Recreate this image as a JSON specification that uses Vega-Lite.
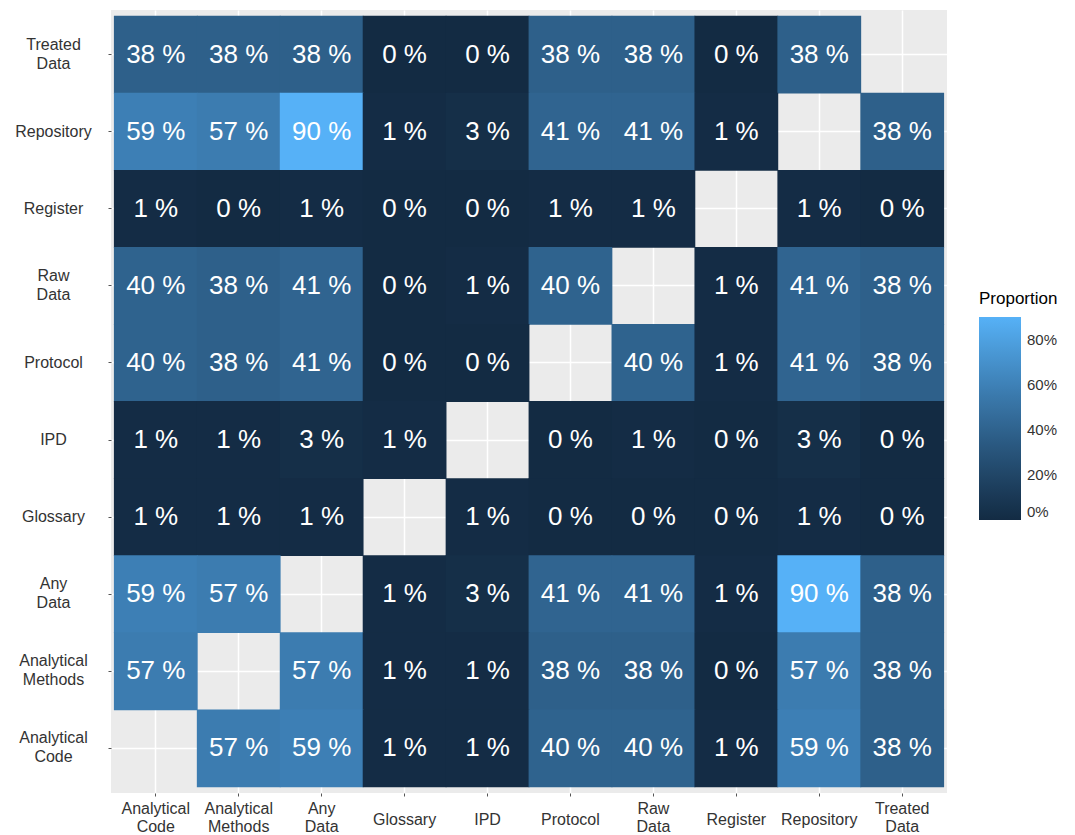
{
  "$schema": "https://vega.github.io/schema/vega-lite/v6.json",
  "width": 836,
  "height": 783,
  "autosize": {"type": "none"},
  "padding": {"left": 111, "top": 10, "right": 128, "bottom": 42},
  "background": "white",
  "config": {"view": {"fill": "#EBEBEB", "stroke": null}, "font": "Liberation Sans"},
  "data": {"values": [
    {"row": "Treated Data", "col": "Analytical Code", "p": 38},
    {"row": "Treated Data", "col": "Analytical Methods", "p": 38},
    {"row": "Treated Data", "col": "Any Data", "p": 38},
    {"row": "Treated Data", "col": "Glossary", "p": 0},
    {"row": "Treated Data", "col": "IPD", "p": 0},
    {"row": "Treated Data", "col": "Protocol", "p": 38},
    {"row": "Treated Data", "col": "Raw Data", "p": 38},
    {"row": "Treated Data", "col": "Register", "p": 0},
    {"row": "Treated Data", "col": "Repository", "p": 38},
    {"row": "Repository", "col": "Analytical Code", "p": 59},
    {"row": "Repository", "col": "Analytical Methods", "p": 57},
    {"row": "Repository", "col": "Any Data", "p": 90},
    {"row": "Repository", "col": "Glossary", "p": 1},
    {"row": "Repository", "col": "IPD", "p": 3},
    {"row": "Repository", "col": "Protocol", "p": 41},
    {"row": "Repository", "col": "Raw Data", "p": 41},
    {"row": "Repository", "col": "Register", "p": 1},
    {"row": "Repository", "col": "Treated Data", "p": 38},
    {"row": "Register", "col": "Analytical Code", "p": 1},
    {"row": "Register", "col": "Analytical Methods", "p": 0},
    {"row": "Register", "col": "Any Data", "p": 1},
    {"row": "Register", "col": "Glossary", "p": 0},
    {"row": "Register", "col": "IPD", "p": 0},
    {"row": "Register", "col": "Protocol", "p": 1},
    {"row": "Register", "col": "Raw Data", "p": 1},
    {"row": "Register", "col": "Repository", "p": 1},
    {"row": "Register", "col": "Treated Data", "p": 0},
    {"row": "Raw Data", "col": "Analytical Code", "p": 40},
    {"row": "Raw Data", "col": "Analytical Methods", "p": 38},
    {"row": "Raw Data", "col": "Any Data", "p": 41},
    {"row": "Raw Data", "col": "Glossary", "p": 0},
    {"row": "Raw Data", "col": "IPD", "p": 1},
    {"row": "Raw Data", "col": "Protocol", "p": 40},
    {"row": "Raw Data", "col": "Register", "p": 1},
    {"row": "Raw Data", "col": "Repository", "p": 41},
    {"row": "Raw Data", "col": "Treated Data", "p": 38},
    {"row": "Protocol", "col": "Analytical Code", "p": 40},
    {"row": "Protocol", "col": "Analytical Methods", "p": 38},
    {"row": "Protocol", "col": "Any Data", "p": 41},
    {"row": "Protocol", "col": "Glossary", "p": 0},
    {"row": "Protocol", "col": "IPD", "p": 0},
    {"row": "Protocol", "col": "Raw Data", "p": 40},
    {"row": "Protocol", "col": "Register", "p": 1},
    {"row": "Protocol", "col": "Repository", "p": 41},
    {"row": "Protocol", "col": "Treated Data", "p": 38},
    {"row": "IPD", "col": "Analytical Code", "p": 1},
    {"row": "IPD", "col": "Analytical Methods", "p": 1},
    {"row": "IPD", "col": "Any Data", "p": 3},
    {"row": "IPD", "col": "Glossary", "p": 1},
    {"row": "IPD", "col": "Protocol", "p": 0},
    {"row": "IPD", "col": "Raw Data", "p": 1},
    {"row": "IPD", "col": "Register", "p": 0},
    {"row": "IPD", "col": "Repository", "p": 3},
    {"row": "IPD", "col": "Treated Data", "p": 0},
    {"row": "Glossary", "col": "Analytical Code", "p": 1},
    {"row": "Glossary", "col": "Analytical Methods", "p": 1},
    {"row": "Glossary", "col": "Any Data", "p": 1},
    {"row": "Glossary", "col": "IPD", "p": 1},
    {"row": "Glossary", "col": "Protocol", "p": 0},
    {"row": "Glossary", "col": "Raw Data", "p": 0},
    {"row": "Glossary", "col": "Register", "p": 0},
    {"row": "Glossary", "col": "Repository", "p": 1},
    {"row": "Glossary", "col": "Treated Data", "p": 0},
    {"row": "Any Data", "col": "Analytical Code", "p": 59},
    {"row": "Any Data", "col": "Analytical Methods", "p": 57},
    {"row": "Any Data", "col": "Glossary", "p": 1},
    {"row": "Any Data", "col": "IPD", "p": 3},
    {"row": "Any Data", "col": "Protocol", "p": 41},
    {"row": "Any Data", "col": "Raw Data", "p": 41},
    {"row": "Any Data", "col": "Register", "p": 1},
    {"row": "Any Data", "col": "Repository", "p": 90},
    {"row": "Any Data", "col": "Treated Data", "p": 38},
    {"row": "Analytical Methods", "col": "Analytical Code", "p": 57},
    {"row": "Analytical Methods", "col": "Any Data", "p": 57},
    {"row": "Analytical Methods", "col": "Glossary", "p": 1},
    {"row": "Analytical Methods", "col": "IPD", "p": 1},
    {"row": "Analytical Methods", "col": "Protocol", "p": 38},
    {"row": "Analytical Methods", "col": "Raw Data", "p": 38},
    {"row": "Analytical Methods", "col": "Register", "p": 0},
    {"row": "Analytical Methods", "col": "Repository", "p": 57},
    {"row": "Analytical Methods", "col": "Treated Data", "p": 38},
    {"row": "Analytical Code", "col": "Analytical Methods", "p": 57},
    {"row": "Analytical Code", "col": "Any Data", "p": 59},
    {"row": "Analytical Code", "col": "Glossary", "p": 1},
    {"row": "Analytical Code", "col": "IPD", "p": 1},
    {"row": "Analytical Code", "col": "Protocol", "p": 40},
    {"row": "Analytical Code", "col": "Raw Data", "p": 40},
    {"row": "Analytical Code", "col": "Register", "p": 1},
    {"row": "Analytical Code", "col": "Repository", "p": 59},
    {"row": "Analytical Code", "col": "Treated Data", "p": 38}
  ]},
  "transform": [{"calculate": "datum.p + ' %'", "as": "label"}],
  "encoding": {
    "x": {
      "field": "col", "type": "nominal",
      "scale": {"domain": ["Analytical Code", "Analytical Methods", "Any Data", "Glossary", "IPD", "Protocol", "Raw Data", "Register", "Repository", "Treated Data"], "paddingInner": 0, "paddingOuter": 0.04},
      "axis": {"title": null, "zindex": 0, "domain": false, "bandPosition": 0.5, "grid": true, "gridColor": "white", "gridWidth": 1.5, "ticks": true, "tickColor": "#555555", "tickSize": 3, "labelAngle": 0, "labelExpr": "split(datum.label, ' ')", "labelFontSize": 16, "labelColor": "#333333", "labelBaseline": "top", "labelLineHeight": 18, "labelPadding": {"condition": {"test": "indexof(datum.label, ' ') > 0", "value": 4}, "value": 15}}
    },
    "y": {
      "field": "row", "type": "nominal",
      "scale": {"domain": ["Treated Data", "Repository", "Register", "Raw Data", "Protocol", "IPD", "Glossary", "Any Data", "Analytical Methods", "Analytical Code"], "paddingInner": 0, "paddingOuter": 0.08},
      "axis": {"title": null, "zindex": 0, "domain": false, "bandPosition": 0.5, "grid": true, "gridColor": "white", "gridWidth": 1.5, "ticks": true, "tickColor": "#555555", "tickSize": 3, "labelExpr": "split(datum.label, ' ')", "labelFontSize": 16, "labelColor": "#333333", "labelPadding": 55, "labelAlign": "center", "labelBaseline": "middle", "labelLineHeight": 19, "labelOffset": {"condition": {"test": "indexof(datum.label, ' ') > 0", "value": -10}, "value": 0}}
    }
  },
  "layer": [
    {
      "mark": {"type": "rect", "width": {"band": 1.01}, "height": {"band": 1.01}},
      "encoding": {
        "color": {
          "field": "p", "type": "quantitative",
          "scale": {"domain": [0, 90], "range": ["#132B43", "#56B1F7"], "interpolate": "lab"},
          "legend": {"title": "Proportion", "orient": "none", "legendX": 868, "legendY": 281, "direction": "vertical", "gradientLength": 203, "gradientThickness": 42, "gradientStrokeWidth": 0, "values": [0, 20, 40, 60, 80], "labelExpr": "datum.value + '%'", "labelFontSize": 15, "labelColor": "#333333", "labelOffset": 6, "titleFontSize": 17, "titleFontWeight": "normal", "titleColor": "#000000", "titlePadding": 9}
        }
      }
    },
    {
      "mark": {"type": "text", "color": "white", "fontSize": 26, "align": "center", "baseline": "middle"},
      "encoding": {"text": {"field": "label", "type": "nominal"}}
    }
  ]
}
